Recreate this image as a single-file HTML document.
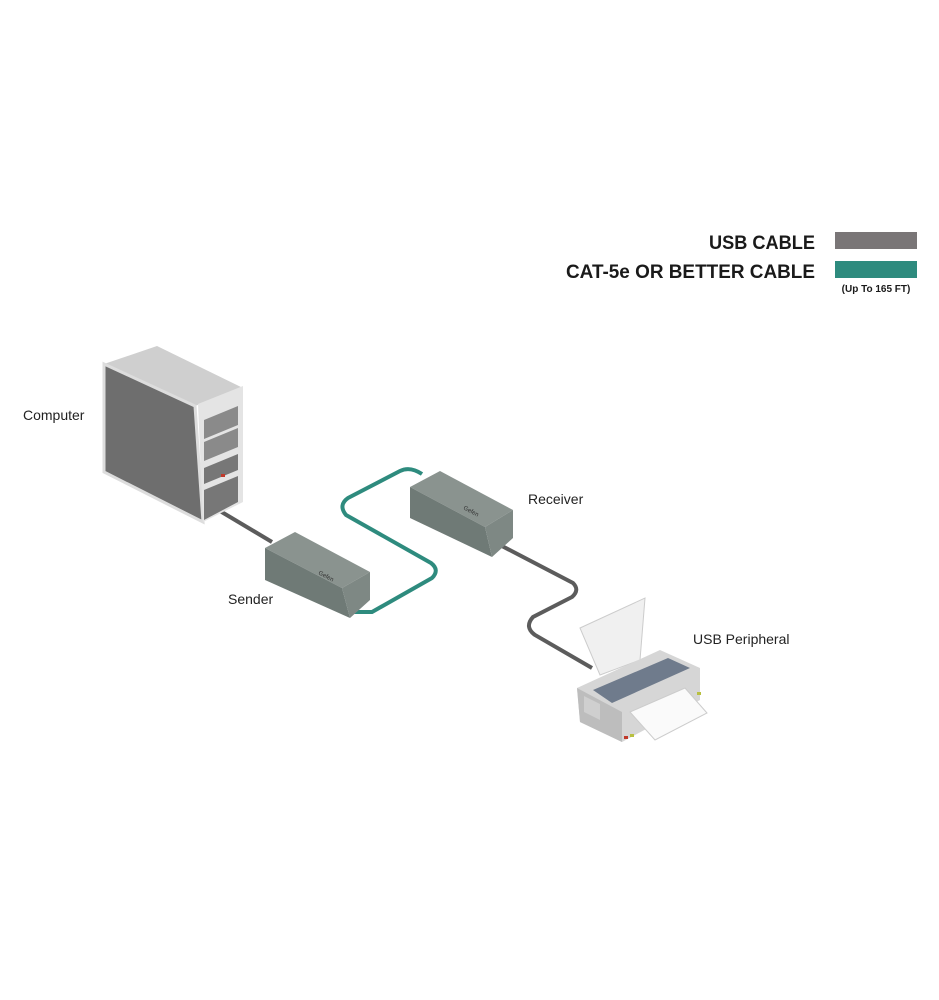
<!DOCTYPE html>
<html><head><style>
html,body{margin:0;padding:0;background:#fff;}
svg{display:block;}
text{font-family:"Liberation Sans",sans-serif;}
</style></head><body>
<svg width="939" height="1000" viewBox="0 0 939 1000" xmlns="http://www.w3.org/2000/svg">
<!-- legend -->
<text x="709" y="249" textLength="106" lengthAdjust="spacingAndGlyphs" font-size="19" font-weight="bold" fill="#1a1a1a">USB CABLE</text>
<rect x="835" y="232" width="82" height="17" fill="#7a7677"/>
<text x="566" y="278" textLength="249" lengthAdjust="spacingAndGlyphs" font-size="19" font-weight="bold" fill="#1a1a1a">CAT-5e OR BETTER CABLE</text>
<rect x="835" y="261" width="82" height="17" fill="#2e8b7e"/>
<text x="876" y="292" text-anchor="middle" font-size="10" font-weight="bold" fill="#1a1a1a">(Up To 165 FT)</text>

<!-- cables -->
<path d="M215,508 L272,542" stroke="#5c5c5c" stroke-width="4" fill="none"/>
<path d="M352,612 L372,612 L432,578 Q440,570 431,563 L346,515 Q338,505 348,498 L400,471 Q410,466 422,474" stroke="#2e8b7e" stroke-width="4" fill="none" stroke-linejoin="round"/>
<path d="M500,545 L573,583 Q580,590 572,597 L533,617 Q524,627 535,635 L592,668" stroke="#5c5c5c" stroke-width="4" fill="none"/>

<!-- computer -->
<polygon points="104,364 157,346 243,388 195,406" fill="#cfcfcf"/>
<polygon points="104,364 195,406 203,522 104,472" fill="#6e6e6e" stroke="#ddd" stroke-width="3"/>
<polygon points="198,404 243,386 243,502 203,522" fill="#e4e4e4"/>
<polygon points="204,420 238,406 238,425 204,439" fill="#8a8a8a"/>
<polygon points="204,442 238,428 238,447 204,461" fill="#8a8a8a"/>
<polygon points="204,468 238,454 238,470 204,484" fill="#777"/>
<polygon points="204,490 238,476 238,502 204,520" fill="#777"/>
<rect x="221" y="474" width="4" height="3" fill="#c0392b"/>

<!-- sender -->
<polygon points="265,548 295,532 370,572 342,588" fill="#8a938f"/>
<polygon points="265,548 342,588 350,618 265,580" fill="#6f7a76"/>
<polygon points="342,588 370,572 370,600 350,618" fill="#7e8884"/>
<text x="0" y="0" font-size="6" fill="#333" transform="translate(318,574) rotate(28)">Gefen</text>

<!-- receiver -->
<polygon points="410,487 440,471 513,510 485,527" fill="#8a938f"/>
<polygon points="410,487 485,527 492,557 410,518" fill="#6f7a76"/>
<polygon points="485,527 513,510 513,538 492,557" fill="#7e8884"/>
<text x="0" y="0" font-size="6" fill="#333" transform="translate(463,509) rotate(28)">Gefen</text>

<!-- printer -->
<polygon points="580,628 645,598 640,660 600,675" fill="#f0f0f0" stroke="#ccc"/>
<polygon points="577,688 660,650 700,668 700,700 622,742 580,722" fill="#d6d6d6"/>
<polygon points="577,688 622,712 622,742 580,722" fill="#bdbdbd"/>
<polygon points="584,696 600,704 600,720 584,712" fill="#cfcfcf"/>
<polygon points="593,690 668,658 690,668 612,703" fill="#6f7b8c"/>
<polygon points="630,712 685,688 707,713 655,740" fill="#fafafa" stroke="#ccc"/>
<rect x="624" y="736" width="4" height="3" fill="#c0392b"/>
<rect x="630" y="734" width="4" height="3" fill="#b8c040"/>
<rect x="697" y="692" width="4" height="3" fill="#b8c040"/>

<!-- labels -->
<text x="23" y="420" font-size="14" fill="#222">Computer</text>
<text x="228" y="604" font-size="14" fill="#222">Sender</text>
<text x="528" y="504" font-size="14" fill="#222">Receiver</text>
<text x="693" y="644" font-size="14" fill="#222">USB Peripheral</text>
</svg>
</body></html>
